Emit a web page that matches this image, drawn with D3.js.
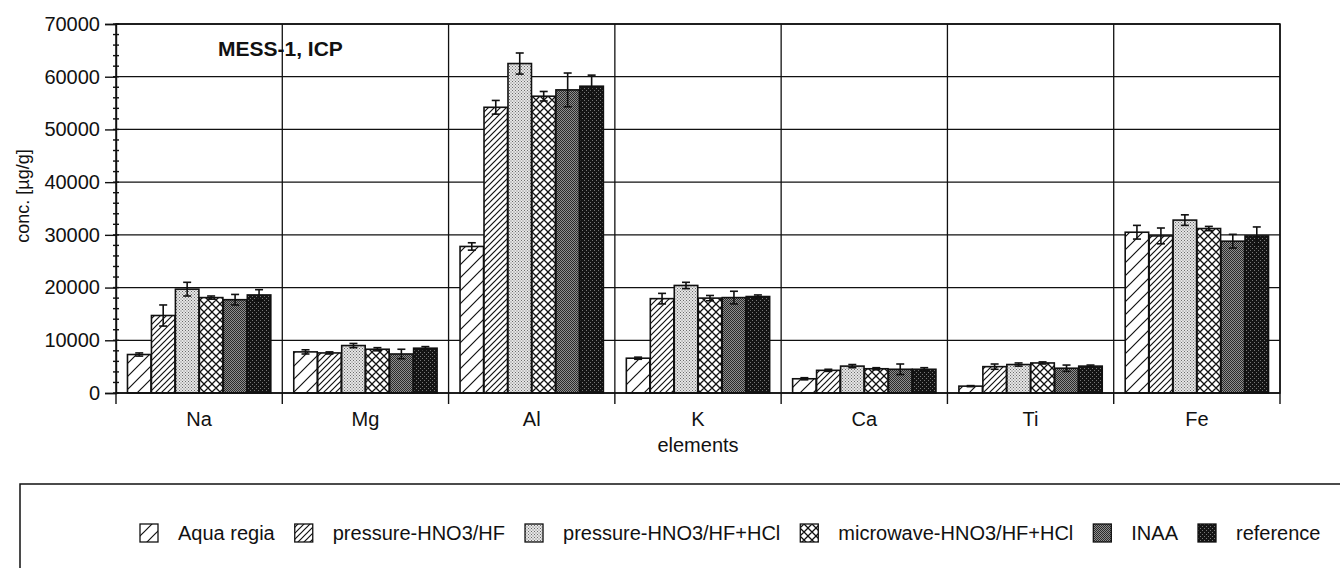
<!DOCTYPE html>
<meta charset="utf-8">
<style>
body { margin: 0; background: #fff; }
text { font-family: "Liberation Sans", Arial, sans-serif; fill: #111; }
.grid line { stroke: #111; stroke-width: 1.3; }
.axis path, .axis line { stroke: #111; stroke-width: 1.4; }
.axis text { font-size: 20px; }
.bar { stroke: #111; stroke-width: 1.6; }
.err { stroke: #111; stroke-width: 1.6; }
</style>
<svg width="1340" height="568"></svg>
<script src="https://d3js.org/d3.v7.min.js"></script>
<script>
// categories and series
var elements = ["Na", "Mg", "Al", "K", "Ca", "Ti", "Fe"];
var methods = ["Aqua regia", "pressure-HNO3/HF", "pressure-HNO3/HF+HCl", "microwave-HNO3/HF+HCl", "INAA", "reference"];

var aquaRegia      = [7300, 7800, 27800, 6600, 2700, 1300, 30500];
var aquaRegiaErr   = [300, 400, 700, 200, 200, 100, 1300];
var pressureHF     = [14700, 7600, 54200, 17900, 4300, 5000, 29800];
var pressureHFErr  = [2000, 200, 1300, 1000, 200, 500, 1500];
var pressureHCl    = [19700, 9000, 62500, 20400, 5100, 5400, 32800];
var pressureHClErr = [1300, 400, 2000, 600, 300, 300, 1000];
var microwave      = [18100, 8300, 56300, 18000, 4600, 5700, 31200];
var microwaveErr   = [300, 300, 900, 500, 200, 200, 400];
var inaa           = [17700, 7400, 57500, 18100, 4500, 4700, 28800];
var inaaErr        = [1000, 900, 3200, 1200, 1000, 600, 1300];
var reference      = [18600, 8500, 58200, 18300, 4500, 5100, 29800];
var referenceErr   = [1000, 300, 2100, 300, 300, 200, 1700];

var yTicks = [0, 10000, 20000, 30000, 40000, 50000, 60000, 70000];
var yMinor = d3.range(0, 70001, 2000);

var values = [aquaRegia, pressureHF, pressureHCl, microwave, inaa, reference];
var errors = [aquaRegiaErr, pressureHFErr, pressureHClErr, microwaveErr, inaaErr, referenceErr];
var fills = ["url(#p1)", "url(#p2)", "url(#p3)", "url(#p4)", "url(#p5)", "url(#p6)"];

var svg = d3.select("svg"),
    margin = {top: 24, right: 60, bottom: 175, left: 116},
    width = +svg.attr("width") - margin.left - margin.right,
    height = +svg.attr("height") - margin.top - margin.bottom;

// patterns
var defs = svg.append("defs");
function hatch(id, s, cross) {
  var p = defs.append("pattern").attr("id", id)
      .attr("patternUnits", "userSpaceOnUse").attr("width", s).attr("height", s);
  p.append("rect").attr("width", s).attr("height", s).attr("fill", "#fff");
  var d = "M0," + s + "L" + s + ",0M" + (-s / 2) + "," + (s / 2) + "L" + (s / 2) + "," + (-s / 2) +
          "M" + (s / 2) + "," + (s * 1.5) + "L" + (s * 1.5) + "," + (s / 2);
  if (cross) d += "M0,0L" + s + "," + s + "M" + (-s / 2) + "," + (s / 2) + "L" + (s / 2) + "," + (s * 1.5) +
          "M" + (s / 2) + "," + (-s / 2) + "L" + (s * 1.5) + "," + (s / 2);
  p.append("path").attr("d", d).attr("stroke", "#111").attr("stroke-width", cross ? 1.3 : 1.2);
}
function stipple(id, bg, dot, s) {
  var p = defs.append("pattern").attr("id", id)
      .attr("patternUnits", "userSpaceOnUse").attr("width", s).attr("height", s);
  p.append("rect").attr("width", s).attr("height", s).attr("fill", bg);
  p.append("rect").attr("width", 1).attr("height", 1).attr("fill", dot);
  p.append("rect").attr("x", s / 2).attr("y", s / 2).attr("width", 1).attr("height", 1).attr("fill", dot);
}
hatch("p1", 13, false);
hatch("p2", 6, false);
stipple("p3", "#e6e6e6", "#6a6a6a", 3);
hatch("p4", 8, true);
stipple("p5", "#8e8e8e", "#2a2a2a", 2);
stipple("p6", "#141414", "#777", 4);

var x0 = d3.scaleBand().domain(elements).range([0, width]).padding(0),
    x1 = d3.scaleBand().domain(methods).range([11, x0.bandwidth() - 11]).padding(0.02),
    y = d3.scaleLinear().domain([0, 70000]).range([height, 0]);

var g = svg.append("g")
    .attr("transform", "translate(" + margin.left + "," + margin.top + ")");

// grid
g.append("g").attr("class", "grid")
  .selectAll("line").data(yTicks.slice(1))
  .enter().append("line")
    .attr("x1", 0).attr("x2", width)
    .attr("y1", function(d) { return y(d); }).attr("y2", function(d) { return y(d); });
g.append("g").attr("class", "grid")
  .selectAll("line").data(elements.slice(1).concat(["end"]))
  .enter().append("line")
    .attr("x1", function(d) { return d == "end" ? width : x0(d); })
    .attr("x2", function(d) { return d == "end" ? width : x0(d); })
    .attr("y1", 0).attr("y2", height);

// bars
var rows = [];
elements.forEach(function(el, i) {
  methods.forEach(function(m, j) {
    rows.push({el: el, m: m, v: values[j][i], e: errors[j][i], fill: fills[j]});
  });
});

var grp = g.selectAll(".bargrp").data(rows).enter().append("g");
grp.append("rect")
    .attr("class", "bar")
    .attr("x", function(d) { return x0(d.el) + x1(d.m); })
    .attr("y", function(d) { return y(d.v); })
    .attr("width", x1.bandwidth())
    .attr("height", function(d) { return height - y(d.v); })
    .attr("fill", function(d) { return d.fill; });

var cx = function(d) { return x0(d.el) + x1(d.m) + x1.bandwidth() / 2; };
grp.append("line").attr("class", "err")
    .attr("x1", cx).attr("x2", cx)
    .attr("y1", function(d) { return y(d.v + d.e); })
    .attr("y2", function(d) { return y(d.v - d.e); });
grp.selectAll(".cap")
  .data(function(d) { return [[d, d.v + d.e], [d, d.v - d.e]]; })
  .enter().append("line").attr("class", "err")
    .attr("x1", function(c) { return cx(c[0]) - 4; })
    .attr("x2", function(c) { return cx(c[0]) + 4; })
    .attr("y1", function(c) { return y(c[1]); })
    .attr("y2", function(c) { return y(c[1]); });

// frame
g.append("rect").attr("width", width).attr("height", height)
    .attr("fill", "none").attr("stroke", "#111").attr("stroke-width", 1.5);

// y axis
g.append("g").attr("class", "axis")
    .call(d3.axisLeft(y).tickValues(yTicks).tickSize(11).tickPadding(5).tickFormat(d3.format("d")));
g.append("g").attr("class", "axis")
  .selectAll("line").data(yMinor)
  .enter().append("line")
    .attr("x1", -3).attr("x2", 3)
    .attr("y1", function(d) { return y(d); }).attr("y2", function(d) { return y(d); });

// x axis
var xa = g.append("g").attr("class", "axis")
    .attr("transform", "translate(0," + height + ")")
    .call(d3.axisBottom(x0).tickSize(0).tickPadding(19));
xa.select(".domain").remove();
xa.selectAll(".sep").data(elements.concat(["end"]))
  .enter().append("line")
    .attr("x1", function(d) { return d == "end" ? width : x0(d); })
    .attr("x2", function(d) { return d == "end" ? width : x0(d); })
    .attr("y1", 0).attr("y2", 11);
xa.append("line").attr("x1", 0).attr("x2", width);

g.append("text")
    .attr("x", width / 2).attr("y", height + 59)
    .attr("text-anchor", "middle").style("font-size", "20px")
    .text("elements");

g.append("text")
    .attr("transform", "rotate(-90)")
    .attr("x", -172).attr("y", -87)
    .attr("text-anchor", "middle").style("font-size", "18px")
    .text("conc. [µg/g]");

g.append("text")
    .attr("x", 102).attr("y", 32)
    .style("font-size", "21px").style("font-weight", "bold")
    .text("MESS-1, ICP");

// legend
svg.append("rect")
    .attr("x", 20).attr("y", 484).attr("width", 1400).attr("height", 200)
    .attr("fill", "none").attr("stroke", "#111").attr("stroke-width", 1.5);

var lx = 140;
methods.forEach(function(m, j) {
  svg.append("rect")
      .attr("x", lx).attr("y", 524).attr("width", 18).attr("height", 18)
      .attr("fill", fills[j]).attr("stroke", "#111").attr("stroke-width", 1.3);
  var t = svg.append("text")
      .attr("x", lx + 38).attr("y", 540)
      .style("font-size", "20px")
      .text(m);
  lx += 38 + t.node().getComputedTextLength() + 20;
});
</script>
